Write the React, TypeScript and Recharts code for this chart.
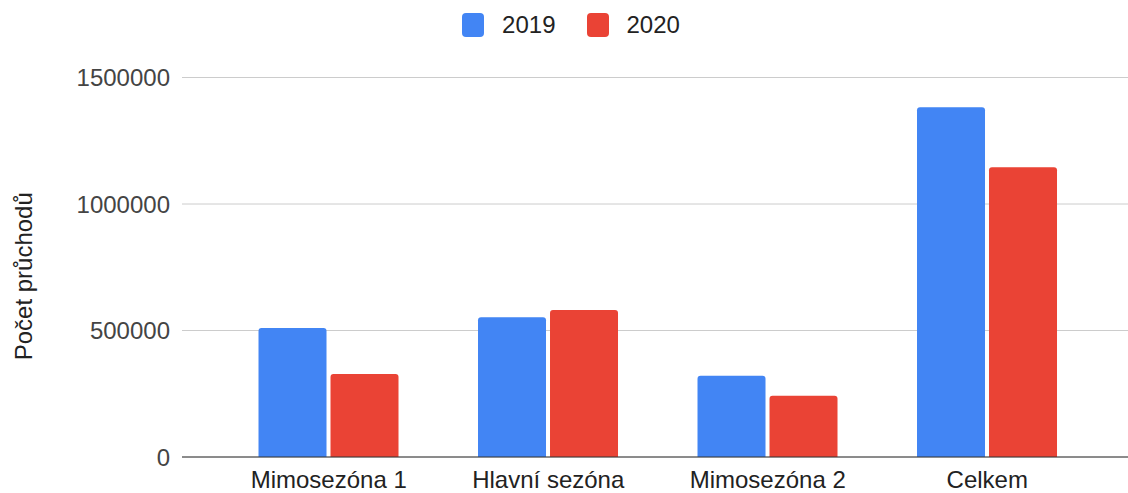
import { Bar, BarChart, CartesianGrid, Label, Legend, XAxis, YAxis } from 'recharts';

const SEASONS = ['Mimosezóna 1', 'Hlavní sezóna', 'Mimosezóna 2', 'Celkem'];
const VALUES_2019 = [510000, 552000, 321000, 1382000];
const VALUES_2020 = [328000, 581000, 242000, 1145000];
const Y_TICKS = [0, 500000, 1000000, 1500000];

const SERIES = [
  { key: '2019', color: '#4285f4' },
  { key: '2020', color: '#ea4335' },
];

const data = SEASONS.map((name, i) => ({
  name,
  '2019': VALUES_2019[i],
  '2020': VALUES_2020[i],
}));

const FONT = '"Liberation Sans", Arial, sans-serif';

function LegendRow() {
  return (
    <div
      style={{
        display: 'flex',
        justifyContent: 'center',
        paddingTop: 13,
        paddingLeft: 14,
        height: 77.5,
        boxSizing: 'border-box',
        fontFamily: FONT,
        fontSize: 24,
        color: '#222',
      }}
    >
      {SERIES.map((s, i) => (
        <div key={s.key} style={{ display: 'flex', alignItems: 'center', marginLeft: i ? 31 : 0, height: 24 }}>
          <span style={{ width: 22, height: 24, borderRadius: 4, background: s.color, marginRight: 18 }} />
          <span>{s.key}</span>
        </div>
      ))}
    </div>
  );
}

export default function App() {
  return (
    <div style={{ position: 'absolute', left: 0, top: 0, fontFamily: FONT }}>
      <BarChart
        width={1128}
        height={493}
        data={data}
        margin={{ top: 0, right: 0, bottom: 0, left: 0 }}
        barGap={4}
        barCategoryGap="18%"
      >
        <CartesianGrid vertical={false} stroke="#cccccc" />
        <Legend verticalAlign="top" content={() => <LegendRow />} />
        <XAxis
          dataKey="name"
          height={36}
          tickLine={false}
          tickMargin={8}
          axisLine={{ stroke: '#333333' }}
          padding={{ left: 37, right: 31 }}
          tick={{ fill: '#222', fontSize: 24, fontFamily: FONT }}
        />
        <YAxis
          width={182}
          domain={[0, 1500000]}
          ticks={Y_TICKS}
          axisLine={false}
          tickLine={false}
          tickMargin={6}
          tick={{ fill: '#444', fontSize: 24, fontFamily: FONT }}
        >
          <Label
            content={({ viewBox }: any) => {
              const cx = viewBox.x + 23;
              const cy = viewBox.y + viewBox.height / 2 + 9;
              return (
                <text
                  x={cx}
                  y={cy}
                  transform={`rotate(-90 ${cx} ${cy})`}
                  textAnchor="middle"
                  dominantBaseline="central"
                  fill="#222"
                  fontSize={24}
                  fontFamily={FONT}
                >
                  Počet průchodů
                </text>
              );
            }}
          />
        </YAxis>
        {SERIES.map((s) => (
          <Bar key={s.key} dataKey={s.key} fill={s.color} radius={[3, 3, 0, 0]} isAnimationActive={false} />
        ))}
      </BarChart>
    </div>
  );
}
